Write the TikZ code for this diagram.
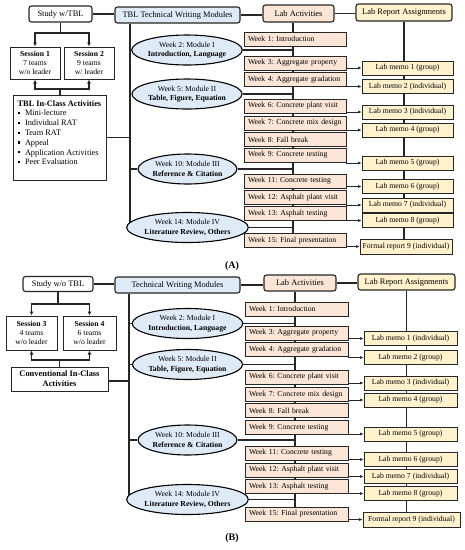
\documentclass[tikz,border=0pt]{standalone}
\usepackage{fontspec}
\setmainfont{Liberation Serif}
\usetikzlibrary{shapes.geometric,arrows.meta,backgrounds}
\definecolor{blueF}{HTML}{DEEBF7}
\definecolor{peachF}{HTML}{FBE5D6}
\definecolor{yellF}{HTML}{FFF2CC}
\definecolor{lineC}{HTML}{262626}
\newcommand\sqbul{\makebox[7.3pt][l]{\rule[1.7pt]{2.2pt}{2.2pt}}}
\frenchspacing
\begin{document}
\begin{tikzpicture}[x=1pt,y=-1pt,
  >={Latex[length=4pt,width=4pt]},
  hdr/.style={draw=lineC, line width=1.1pt, rounded corners=2.5pt, inner sep=0, font=\fontsize{8.4}{10}\selectfont},
  plainbox/.style={draw=lineC, line width=1pt, inner sep=0, fill=white},
  sess/.style={plainbox, align=center, font=\fontsize{7.7}{9.2}\selectfont},
  modell/.style={ellipse, draw=black, line width=1.1pt, fill=blueF, minimum width=98pt, minimum height=30pt, inner sep=0, align=center, font=\fontsize{7.7}{9.4}\selectfont},
  wk/.style={draw=lineC, line width=0.8pt, fill=peachF, minimum height=14pt, inner xsep=4pt, inner ysep=0, align=left, font=\fontsize{7.7}{9}\selectfont},
  memo/.style={draw=lineC, line width=0.8pt, fill=yellF, minimum height=14pt, inner sep=0, font=\fontsize{7.7}{9}\selectfont},
  ln/.style={draw=lineC, line width=1.2pt},
  marr/.style={draw=lineC, line width=0.6pt, -{Latex[length=3.5pt,width=3pt]}},
  captxt/.style={font=\bfseries\fontsize{10}{12}\selectfont, inner sep=0}
]
\useasboundingbox (0,0) rectangle (465,550);

% ===================== (A) =====================
\node[hdr, fill=white, minimum width=63pt, minimum height=16pt] (studyA) at (60.5,14) {Study w/TBL};
\node[hdr, fill=blueF, minimum width=125pt, minimum height=16pt] (modA) at (177.5,15) {TBL Technical Writing Modules};
\node[hdr, fill=peachF, minimum width=71pt, minimum height=17pt] (labA) at (298.5,13.5) {Lab Activities};
\node[hdr, fill=yellF, minimum width=96pt, minimum height=17pt] (lrA) at (404,12.5) {Lab Report Assignments};

\node[sess, minimum width=50pt, minimum height=32pt] (s1A) at (35,63) {\textbf{Session 1}\\7 teams\\w/o leader};
\node[sess, minimum width=50pt, minimum height=32pt] (s2A) at (89,63) {\textbf{Session 2}\\9 teams\\w/ leader};

\node[plainbox, minimum width=93.4pt, minimum height=85pt] (tblA) at (60,137.5) {};
\node[anchor=north west, align=left, inner sep=0, font=\fontsize{8.3}{9.8}\selectfont] (tblAtxt) at (17.5,100.8)
  {\textbf{TBL In-Class Activities}\\[-0.6pt]\sqbul Mini-lecture\\\sqbul Individual RAT\\\sqbul Team RAT\\\sqbul Appeal\\\sqbul Application Activities\\\sqbul Peer Evaluation};

\node[modell] (e1A) at (187,50) {Week 2: Module I\\\textbf{Introduction, Language}};
\node[modell] (e2A) at (187,94) {Week 5: Module II\\\textbf{Table, Figure, Equation}};
\node[modell] (e3A) at (187.5,169) {Week 10: Module III\\\textbf{Reference \& Citation}};
\node[modell] (e4A) at (187.5,227.5) {Week 14: Module IV\\\textbf{Literature Review, Others}};

\foreach \n/\y/\t in {1/39/{Week 1: Introduction}, 3/63/{Week 3: Aggregate property}, 4/79.5/{Week 4: Aggregate gradation},
  6/106/{Week 6: Concrete plant visit}, 7/123/{Week 7: Concrete mix design}, 8/139.5/{Week 8: Fall break},
  9/155/{Week 9: Concrete testing}, 11/181/{Week 11: Concrete testing}, 12/197.5/{Week 12: Asphalt plant visit},
  13/213.5/{Week 13: Asphalt testing}, 15/240.5/{Week 15: Final presentation}}
  \node[wk, text width=94pt] (wk\n A) at (295,\y) {\t};

\foreach \n/\y/\t in {1/68/{Lab memo 1 (group)}, 2/86.5/{Lab memo 2 (individual)}, 3/112/{Lab memo 3 (individual)},
  4/130/{Lab memo 4 (group)}, 5/163/{Lab memo 5 (group)}, 6/186.5/{Lab memo 6 (group)},
  7/205/{Lab memo 7 (individual)}, 8/220.5/{Lab memo 8 (group)}}
  \node[memo, minimum width=91pt] (m\n A) at (407.5,\y) {\t};
\node[memo, minimum width=92pt, minimum height=15pt] (m9A) at (406,246.5) {Formal report 9 (individual)};

\node[captxt] (capA) at (232,266) {(A)};

\coordinate (tkA) at (130,0);
\coordinate (ltA) at (293,0);
\coordinate (jA1) at (60,33);
\coordinate (jA2) at (60,89);

% ===================== (B) =====================
\node[hdr, fill=white, minimum width=70pt, minimum height=15pt] (studyB) at (58,284) {Study w/o TBL};
\node[hdr, fill=blueF, minimum width=125pt, minimum height=16pt] (modB) at (177.5,285) {Technical Writing Modules};
\node[hdr, fill=peachF, minimum width=72pt, minimum height=16pt] (labB) at (300,283) {Lab Activities};
\node[hdr, fill=yellF, minimum width=97pt, minimum height=16pt] (lrB) at (406.5,282) {Lab Report Assignments};

\node[sess, minimum width=51pt, minimum height=34pt] (s3B) at (31.5,333) {\textbf{Session 3}\\4 teams\\w/o leader};
\node[sess, minimum width=53pt, minimum height=34pt] (s4B) at (89.5,333) {\textbf{Session 4}\\6 teams\\w/o leader};

\node[plainbox, minimum width=97pt, minimum height=24pt, align=center, font=\bfseries\fontsize{8.4}{10}\selectfont] (convB) at (59.5,379) {Conventional In-Class\\Activities};

\node[modell] (e1B) at (187.5,323.5) {Week 2: Module I\\\textbf{Introduction, Language}};
\node[modell] (e2B) at (187.5,364.5) {Week 5: Module II\\\textbf{Table, Figure, Equation}};
\node[modell] (e3B) at (187.5,440) {Week 10: Module III\\\textbf{Reference \& Citation}};
\node[modell] (e4B) at (187.5,499.5) {Week 14: Module IV\\\textbf{Literature Review, Others}};

\foreach \n/\y/\t in {1/309/{Week 1: Introduction}, 3/333/{Week 3: Aggregate property}, 4/349.5/{Week 4: Aggregate gradation},
  6/377/{Week 6: Concrete plant visit}, 7/394.5/{Week 7: Concrete mix design}, 8/410.5/{Week 8: Fall break},
  9/427.5/{Week 9: Concrete testing}, 11/453/{Week 11: Concrete testing}, 12/470/{Week 12: Asphalt plant visit},
  13/486.5/{Week 13: Asphalt testing}, 15/514/{Week 15: Final presentation}}
  \node[wk, text width=95pt] (wk\n B) at (296.5,\y) {\t};

\foreach \n/\y/\t in {1/338.5/{Lab memo 1 (individual)}, 2/357.5/{Lab memo 2 (group)}, 3/383/{Lab memo 3 (individual)},
  4/400/{Lab memo 4 (group)}, 5/434/{Lab memo 5 (group)}, 6/459.5/{Lab memo 6 (group)},
  7/476.5/{Lab memo 7 (individual)}, 8/493.5/{Lab memo 8 (group)}}
  \node[memo, minimum width=93pt] (m\n B) at (410.5,\y) {\t};
\node[memo, minimum width=97pt, minimum height=15pt] (m9B) at (411.5,519.5) {Formal report 9 (individual)};

\node[captxt] (capB) at (232,538) {(B)};

\coordinate (tkB) at (129,0);
\coordinate (ltB) at (295,0);
\coordinate (jB1) at (58,304);
\coordinate (jB2) at (59.5,360);

% ===================== connectors =====================
\begin{scope}[on background layer]
\fill[white] (0,0) rectangle (465,550);
% (A)
\draw[ln] (studyA.east) -- (studyA.east -| modA.west);
\draw[ln] (modA.east) -- (modA.east -| labA.west);
\draw[ln] (labA.east) -- (labA.east -| lrA.west);
\draw[ln] (studyA.south) -- (studyA.south |- jA1);
\draw[ln,<->] (s1A.north) -- (s1A.north |- jA1) -- (s2A.north |- jA1) -- (s2A.north);
\draw[ln,<->] (s1A.south) -- (s1A.south |- jA2) -- (s2A.south |- jA2) -- (s2A.south);
\draw[ln] (tblA.north) -- (tblA.north |- jA2);
\draw[ln] (modA.south -| tkA) -- (e4A.west -| tkA) -- (e4A.west);
\draw[ln] (tblA.east) -- (tblA.east -| tkA);
\foreach \e in {e1A,e2A,e3A} \draw[ln] (\e.west -| tkA) -- (\e.west);
\foreach \e in {e1A,e2A,e3A,e4A} \draw[ln] (\e.east) -- (\e.east -| ltA);
\draw[ln] (labA.south -| ltA) -- (wk15A.north -| ltA);
\draw[ln] (lrA.south) -- (lrA.south |- m9A.north);
\foreach \w/\m in {3/1,4/2,6/3,7/4,9/5,11/6,12/7,13/8,15/9}
  \draw[marr] (wk\w A.east |- m\m A.west) -- (m\m A.west);
% (B)
\draw[ln] (studyB.east) -- (studyB.east -| modB.west);
\draw[ln] (modB.east) -- (modB.east -| labB.west);
\draw[ln] (labB.east) -- (labB.east -| lrB.west);
\draw[ln] (studyB.south) -- (studyB.south |- jB1);
\draw[ln,<->] (s3B.north) -- (s3B.north |- jB1) -- (s4B.north |- jB1) -- (s4B.north);
\draw[ln,<->] (s3B.south) -- (s3B.south |- jB2) -- (s4B.south |- jB2) -- (s4B.south);
\draw[ln] (convB.north) -- (convB.north |- jB2);
\draw[ln] (modB.south -| tkB) -- (e4B.west -| tkB) -- (e4B.west);
\draw[ln] ([yshift=-2pt]convB.east) -- ([yshift=-2pt]convB.east -| tkB);
\foreach \e in {e1B,e2B,e3B} \draw[ln] (\e.west -| tkB) -- (\e.west);
\foreach \e in {e1B,e2B,e3B,e4B} \draw[ln] (\e.east) -- (\e.east -| ltB);
\draw[ln] (labB.south -| ltB) -- (wk15B.north -| ltB);
\draw[ln] (lrB.south) -- (lrB.south |- m9B.north);
\foreach \w/\m in {3/1,4/2,6/3,7/4,9/5,11/6,12/7,13/8,15/9}
  \draw[marr] (wk\w B.east |- m\m B.west) -- (m\m B.west);
\end{scope}
\end{tikzpicture}
\end{document}
